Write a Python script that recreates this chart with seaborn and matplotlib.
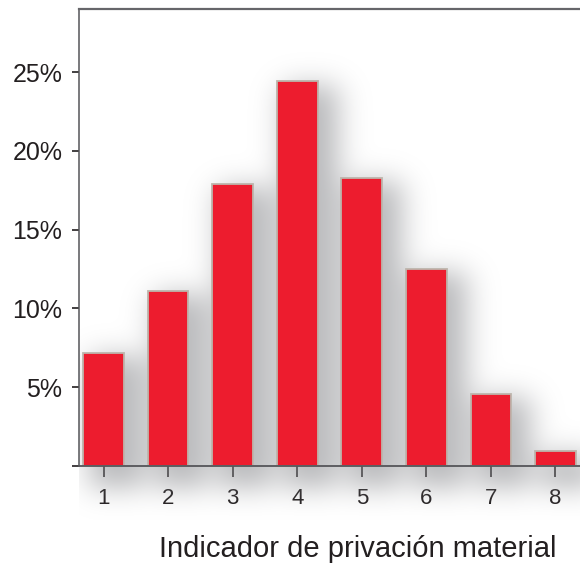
import numpy as np
import pandas as pd
import seaborn as sns
import matplotlib.pyplot as plt

# -------- DATA --------
categories = ["1", "2", "3", "4", "5", "6", "7", "8"]
shares = [7.2, 11.1, 17.9, 24.4, 18.3, 12.5, 4.6, 0.95]   # % of population
y_ticks = [0, 5, 10, 15, 20, 25]
y_tick_labels = ["", "5%", "10%", "15%", "20%", "25%"]
x_label = "Indicador de privación material"

bar_red = "#ED1C2E"
bar_edge = "#BDB5AC"
spine_col = "#555559"
text_col = "#231f20"

df = pd.DataFrame({"Indicador": categories, "Valor": shares})

sns.set_style("white")
plt.rcParams["font.family"] = ["Liberation Sans", "DejaVu Sans"]

fig = plt.figure(figsize=(5.8, 5.63), dpi=100)
ax = fig.add_axes([79 / 580, 1 - 466 / 563, 501 / 580, 457 / 563])

xlim = (-0.38, 7.38)
ylim = (0, 29)
bar_w = 0.63


# -------- SOFT DROP SHADOW (blurred bar mask) --------
def gauss_blur(a, sig_r, sig_c):
    def kern(s):
        r = int(3 * s)
        t = np.arange(-r, r + 1)
        k = np.exp(-0.5 * (t / s) ** 2)
        return k / k.sum()
    kr, kc = kern(sig_r), kern(sig_c)
    a = np.apply_along_axis(lambda v: np.convolve(v, kc, mode="same"), 1, a)
    a = np.apply_along_axis(lambda v: np.convolve(v, kr, mode="same"), 0, a)
    return a


px_x = 64.6   # pixels per category unit
px_y = 15.76  # pixels per percent
gx = np.arange(xlim[0], 8.8, 1 / px_x)
gy = np.arange(-3.4, 31, 1 / px_y)
X, Y = np.meshgrid(gx, gy)
mask = np.zeros_like(X)
for i, h in enumerate(shares):
    inside = (np.abs(X - (i + 0.2)) <= bar_w / 2 + 0.1) & (Y <= h - 0.2) & (Y >= -1.4)
    mask[inside] = 1.0
soft = gauss_blur(mask, 14, 15)
rgba = np.zeros(soft.shape + (4,))
rgba[..., 0] = 0.53
rgba[..., 1] = 0.535
rgba[..., 2] = 0.55
rgba[..., 3] = np.clip(soft, 0, 1) * 0.6
ax.imshow(rgba, extent=(gx[0], gx[-1], gy[0], gy[-1]), origin="lower",
          aspect="auto", zorder=1, clip_on=False, interpolation="bilinear")

# -------- BARS --------
sns.barplot(data=df, x="Indicador", y="Valor", order=categories,
            color=bar_red, saturation=1, width=bar_w,
            edgecolor=bar_edge, linewidth=1.3, ax=ax, zorder=3)

ax.set_xlim(*xlim)
ax.set_ylim(*ylim)
ax.set_yticks(y_ticks)
ax.set_yticklabels(y_tick_labels, fontsize=18, color=text_col)
ax.tick_params(axis="y", direction="out", length=5, width=1.2, color=text_col, pad=7, left=True)
ax.tick_params(axis="x", direction="out", length=8, width=1.2, color=text_col,
               pad=8, labelsize=16, labelcolor=text_col, bottom=True)

ax.set_ylabel("")
ax.set_xlabel(x_label, fontsize=21, color=text_col)
ax.xaxis.set_label_coords(0.557, -0.152)

for side in ["left", "top", "bottom"]:
    ax.spines[side].set_visible(True)
    ax.spines[side].set_color(spine_col)
    ax.spines[side].set_zorder(4)
ax.spines["left"].set_linewidth(1.1)
ax.spines["bottom"].set_linewidth(1.3)
ax.spines["top"].set_linewidth(1.6)
ax.spines["top"].set_color("#66666a")
ax.spines["right"].set_visible(False)

fig.savefig("out.png", dpi=100)
plt.close(fig)
